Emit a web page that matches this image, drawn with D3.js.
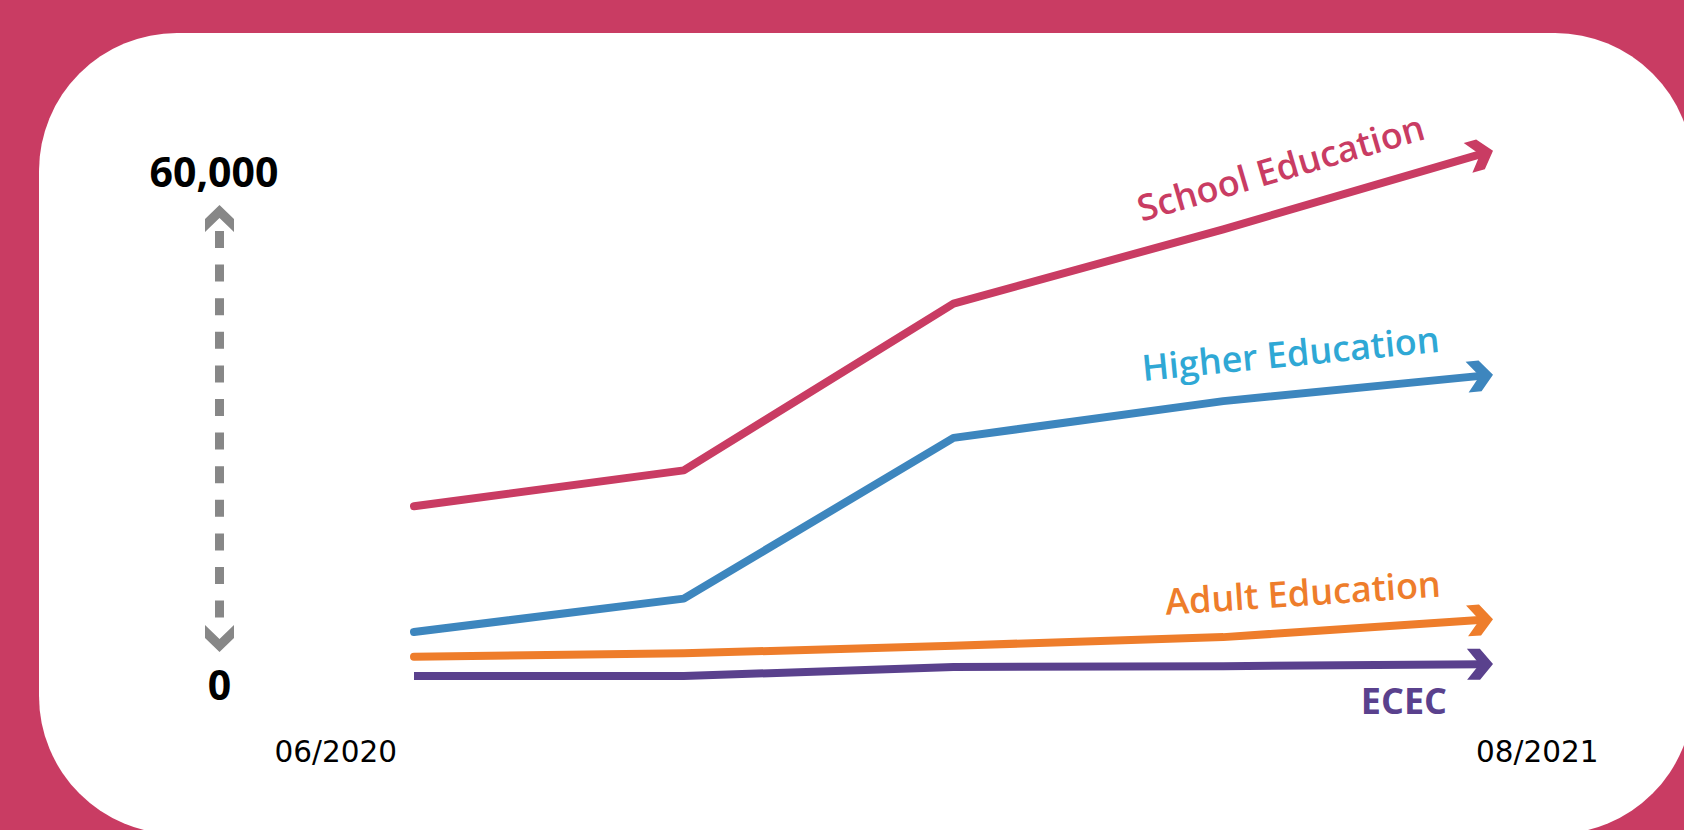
<!DOCTYPE html>
<html>
<head>
<meta charset="utf-8">
<script src="https://cdn.jsdelivr.net/npm/d3@7"></script>
<style>
    body { margin: 0; background: #c93c63; }
    svg { display: block; }
</style>
</head>
<body>
<div id="chart"></div>
<script>
// --- Data ---

// Time points along the x axis (only the first and last are labelled)
var periods = ["06/2020", "09/2020", "01/2021", "04/2021", "08/2021"];
var tickLabels = ["06/2020", "08/2021"];

// Series values (number of users)
var seriesNames = ["School Education", "Higher Education", "Adult Education", "ECEC"];
var schoolValues = [20900, 25100, 44600, 53300, 62500];
var higherValues = [6200, 10100, 28900, 33200, 36300];
var adultValues = [3300, 3700, 4600, 5600, 7700];
var ececValues = [1050, 1050, 2100, 2200, 2450];

// Y range shown by the dashed arrow
var yMin = 0;
var yMax = 60000;

// --- Configuration ---
const w = 1684;
const h = 830;
const pink = "#c93c63";
const grey = "#878787";

// Styles per series (line colour, label colour, cap, label placement)
var styles = [
    { line: pink, label: pink, cap: "round", back: 60, off: 30 },
    { line: "#3d86be", label: "#2fa8d5", cap: "round", back: 50, off: 28 },
    { line: "#ee7d2b", label: "#ee7d2b", cap: "round", back: 50, off: 26 },
    { line: "#5a418d", label: "#5a418d", cap: "butt", back: 0, off: 0 }
];

var allValues = [schoolValues, higherValues, adultValues, ececValues];

// --- Scales ---
var xScale = d3.scalePoint()
    .domain(periods)
    .range([414, 1493]);

var yScale = d3.scaleLinear()
    .domain([yMin, yMax])
    .range([685, 172]);

// --- SVG ---
var svg = d3.select("#chart")
    .append("svg")
    .attr("width", w)
    .attr("height", h);

// pink frame and white rounded panel
svg.append("rect")
    .attr("width", w)
    .attr("height", h)
    .attr("fill", pink);

svg.append("rect")
    .attr("x", 39)
    .attr("y", 33)
    .attr("width", 1654)
    .attr("height", 801)
    .attr("rx", 138)
    .attr("fill", "#ffffff");

// --- Y indicator: dashed double arrow between the two values ---
var axisX = 219.5;
var topTip = yScale(yMax) + 33;
var bottomTip = yScale(yMin) - 33;

svg.append("line")
    .attr("x1", axisX)
    .attr("x2", axisX)
    .attr("y1", topTip + 26)
    .attr("y2", bottomTip - 34)
    .attr("stroke", grey)
    .attr("stroke-width", 9)
    .attr("stroke-dasharray", "17 16.6");

function chevron(tipY, dir) {
    // dir = 1 pointing up, -1 pointing down
    var pts = [
        [axisX, tipY],
        [axisX + 14.5, tipY + dir * 14],
        [axisX + 14.5, tipY + dir * 27],
        [axisX, tipY + dir * 13],
        [axisX - 14.5, tipY + dir * 27],
        [axisX - 14.5, tipY + dir * 14]
    ];
    svg.append("path")
        .attr("d", "M" + pts.join("L") + "Z")
        .attr("fill", grey);
}
chevron(topTip, 1);
chevron(bottomTip, -1);

svg.selectAll(".ylabel")
    .data([yMax, yMin])
    .enter()
    .append("text")
    .attr("class", "ylabel")
    .attr("x", function (d) { return d === yMax ? 214 : axisX; })
    .attr("y", function (d) { return yScale(d); })
    .attr("dy", "0.36em")
    .attr("text-anchor", "middle")
    .attr("font-family", "'Open Sans', sans-serif")
    .attr("font-weight", 700)
    .attr("font-size", "41px")
    .attr("fill", "#000")
    .text(d3.format(","));

// --- X labels at the two ends ---
svg.selectAll(".xlabel")
    .data(tickLabels)
    .enter()
    .append("text")
    .attr("class", "xlabel")
    .attr("x", function (d, i) { return xScale(d) - 17; })
    .attr("y", 762)
    .attr("text-anchor", function (d, i) { return i === 0 ? "end" : "start"; })
    .attr("font-family", "'DejaVu Sans', sans-serif")
    .attr("font-size", "29.5px")
    .attr("fill", "#000")
    .text(function (d) { return d; });

// --- Lines with chevron arrow heads ---
var line = d3.line()
    .x(function (d) { return d[0]; })
    .y(function (d) { return d[1]; });

allValues.forEach(function (values, s) {
    var st = styles[s];
    var pts = values.map(function (v, i) {
        return [xScale(periods[i]), yScale(v)];
    });
    var tip = pts[pts.length - 1];
    var prev = pts[pts.length - 2];
    var dx = tip[0] - prev[0], dy = tip[1] - prev[1];
    var len = Math.sqrt(dx * dx + dy * dy);
    var ux = dx / len, uy = dy / len;
    var angle = Math.atan2(dy, dx) * 180 / Math.PI;

    // stop the line just inside the arrow head
    var linePts = pts.slice(0, -1).concat([[tip[0] - ux * 10, tip[1] - uy * 10]]);

    svg.append("path")
        .attr("d", line(linePts))
        .attr("fill", "none")
        .attr("stroke", st.line)
        .attr("stroke-width", 8)
        .attr("stroke-linecap", st.cap)
        .attr("stroke-linejoin", "round");

    svg.append("path")
        .attr("d", "M0,0L-13,-15.5L-26,-15.5L-13.5,0L-26,15.5L-13,15.5Z")
        .attr("transform", "translate(" + tip[0] + "," + tip[1] + ") rotate(" + angle + ")")
        .attr("fill", st.line);

    if (s < 3) {
        // label parallel to the last segment, above it
        var px = tip[0] - ux * st.back;
        var py = tip[1] - uy * st.back;
        svg.append("text")
            .attr("transform", "translate(" + px + "," + py + ") rotate(" + angle + ")")
            .attr("x", 0)
            .attr("y", -st.off)
            .attr("text-anchor", "end")
            .attr("font-family", "'Open Sans', sans-serif")
            .attr("font-weight", 600)
            .attr("font-size", "36px")
            .attr("fill", st.label)
            .text(seriesNames[s]);
    } else {
        // ECEC label sits under its arrow
        svg.append("text")
            .attr("x", tip[0] - 46)
            .attr("y", tip[1] + 50)
            .attr("text-anchor", "end")
            .attr("font-family", "'Open Sans', sans-serif")
            .attr("font-weight", 700)
            .attr("font-size", "36px")
            .attr("fill", st.label)
            .text(seriesNames[s]);
    }
});
</script>
</body>
</html>
